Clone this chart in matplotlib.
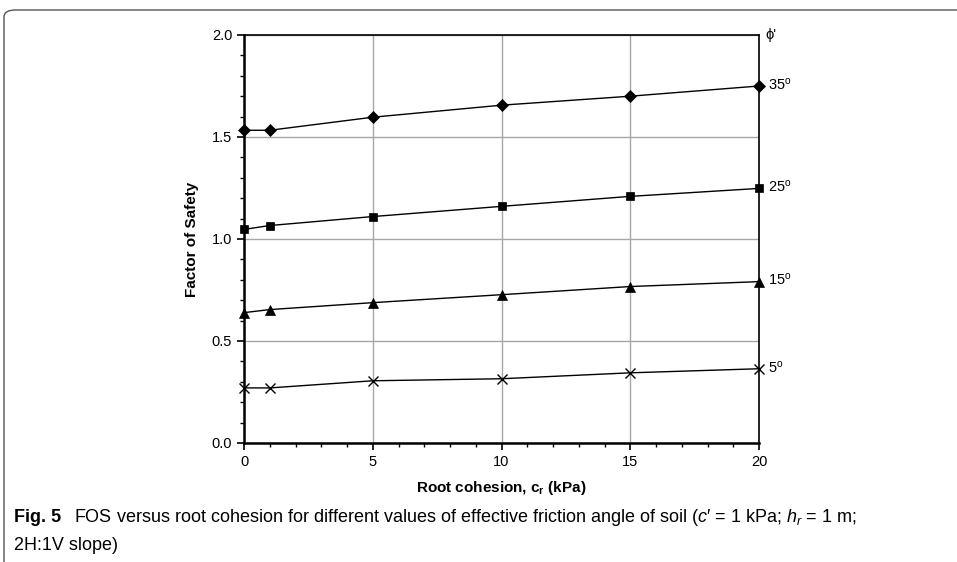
import matplotlib
matplotlib.use("Agg")
import matplotlib.pyplot as plt
from matplotlib.patches import FancyBboxPatch
from matplotlib.ticker import MultipleLocator

plt.rcParams['font.family'] = ['Liberation Sans', 'DejaVu Sans']
plt.rcParams['mathtext.fontset'] = 'custom'
plt.rcParams['mathtext.rm'] = 'Liberation Sans'
plt.rcParams['mathtext.it'] = 'Liberation Sans:italic'
plt.rcParams['mathtext.bf'] = 'Liberation Sans:bold'

cohesion = [0, 1, 5, 10, 15, 20]
fos_35 = [1.533, 1.533, 1.597, 1.656, 1.700, 1.750]
fos_25 = [1.047, 1.066, 1.110, 1.160, 1.209, 1.248]
fos_15 = [0.639, 0.654, 0.688, 0.727, 0.767, 0.791]
fos_5 = [0.270, 0.270, 0.305, 0.315, 0.344, 0.364]
angle_labels = ['35', '25', '15', '5']

fig = plt.figure(figsize=(9.57, 5.62), dpi=100)

# outer frame
frame = FancyBboxPatch((4/957, -0.2), 1.2, 1.2 - 10/562,
                       boxstyle="round,pad=0,rounding_size=0.012",
                       transform=fig.transFigure, fill=False,
                       edgecolor='#555555', linewidth=1.0, clip_on=False)
fig.patches.append(frame)

ax = fig.add_axes([244/957, 1-443/562, (759-244)/957, (443-35)/562])

series = [(fos_35, 'D', 6), (fos_25, 's', 6), (fos_15, '^', 7), (fos_5, 'x', 7)]
for (vals, mk, ms), lab in zip(series, angle_labels):
    ax.plot(cohesion, vals, color='black', linewidth=1.0, marker=mk,
            markersize=ms, markeredgewidth=1.0 if mk == 'x' else 0.5,
            markerfacecolor='black', markeredgecolor='black', clip_on=False, zorder=3)
    ax.text(20.35, vals[-1] + 0.008, lab + r'$^{\mathrm{o}}$', fontsize=10.5,
            va='center', ha='left')

ax.text(20.25, 2.0, "ϕ'", fontsize=10.5, va='center', ha='left')

ax.set_xlim(0, 20)
ax.set_ylim(0, 2.0)
ax.set_xticks([0, 5, 10, 15, 20])
ax.set_yticks([0.0, 0.5, 1.0, 1.5, 2.0])
ax.set_yticklabels(['0.0', '0.5', '1.0', '1.5', '2.0'])
ax.xaxis.set_minor_locator(MultipleLocator(1))
ax.yaxis.set_minor_locator(MultipleLocator(0.1))
ax.tick_params(axis='both', which='major', length=5, width=1.2, labelsize=10.5, direction='out')
ax.tick_params(axis='both', which='minor', length=3, width=1.0, direction='out')
ax.grid(True, which='major', color='#a6a6a6', linewidth=1.0)
ax.set_axisbelow(True)

for side in ['left', 'bottom']:
    ax.spines[side].set_linewidth(1.8)
ax.spines['top'].set_linewidth(1.2)
ax.spines['right'].set_linewidth(1.2)

ax.set_xlabel(r'Root cohesion, c$_\mathbf{r}$ (kPa)', fontsize=11, fontweight='bold', labelpad=7)
ax.set_ylabel('Factor of Safety', fontsize=11, fontweight='bold', labelpad=9)

fig.text(14/957, 1-518/562, 'Fig. 5', fontsize=13, fontweight='bold', va='center', ha='left')
fig.text(74/957, 1-518/562,
         "FOS versus root cohesion for different values of effective friction angle of soil "
         "($c$′ = 1 kPa; $h_r$ = 1 m;",
         fontsize=13, va='center', ha='left')
fig.text(14/957, 1-545/562, "2H:1V slope)", fontsize=13, va='center', ha='left')

fig.savefig('out.png', dpi=100)
